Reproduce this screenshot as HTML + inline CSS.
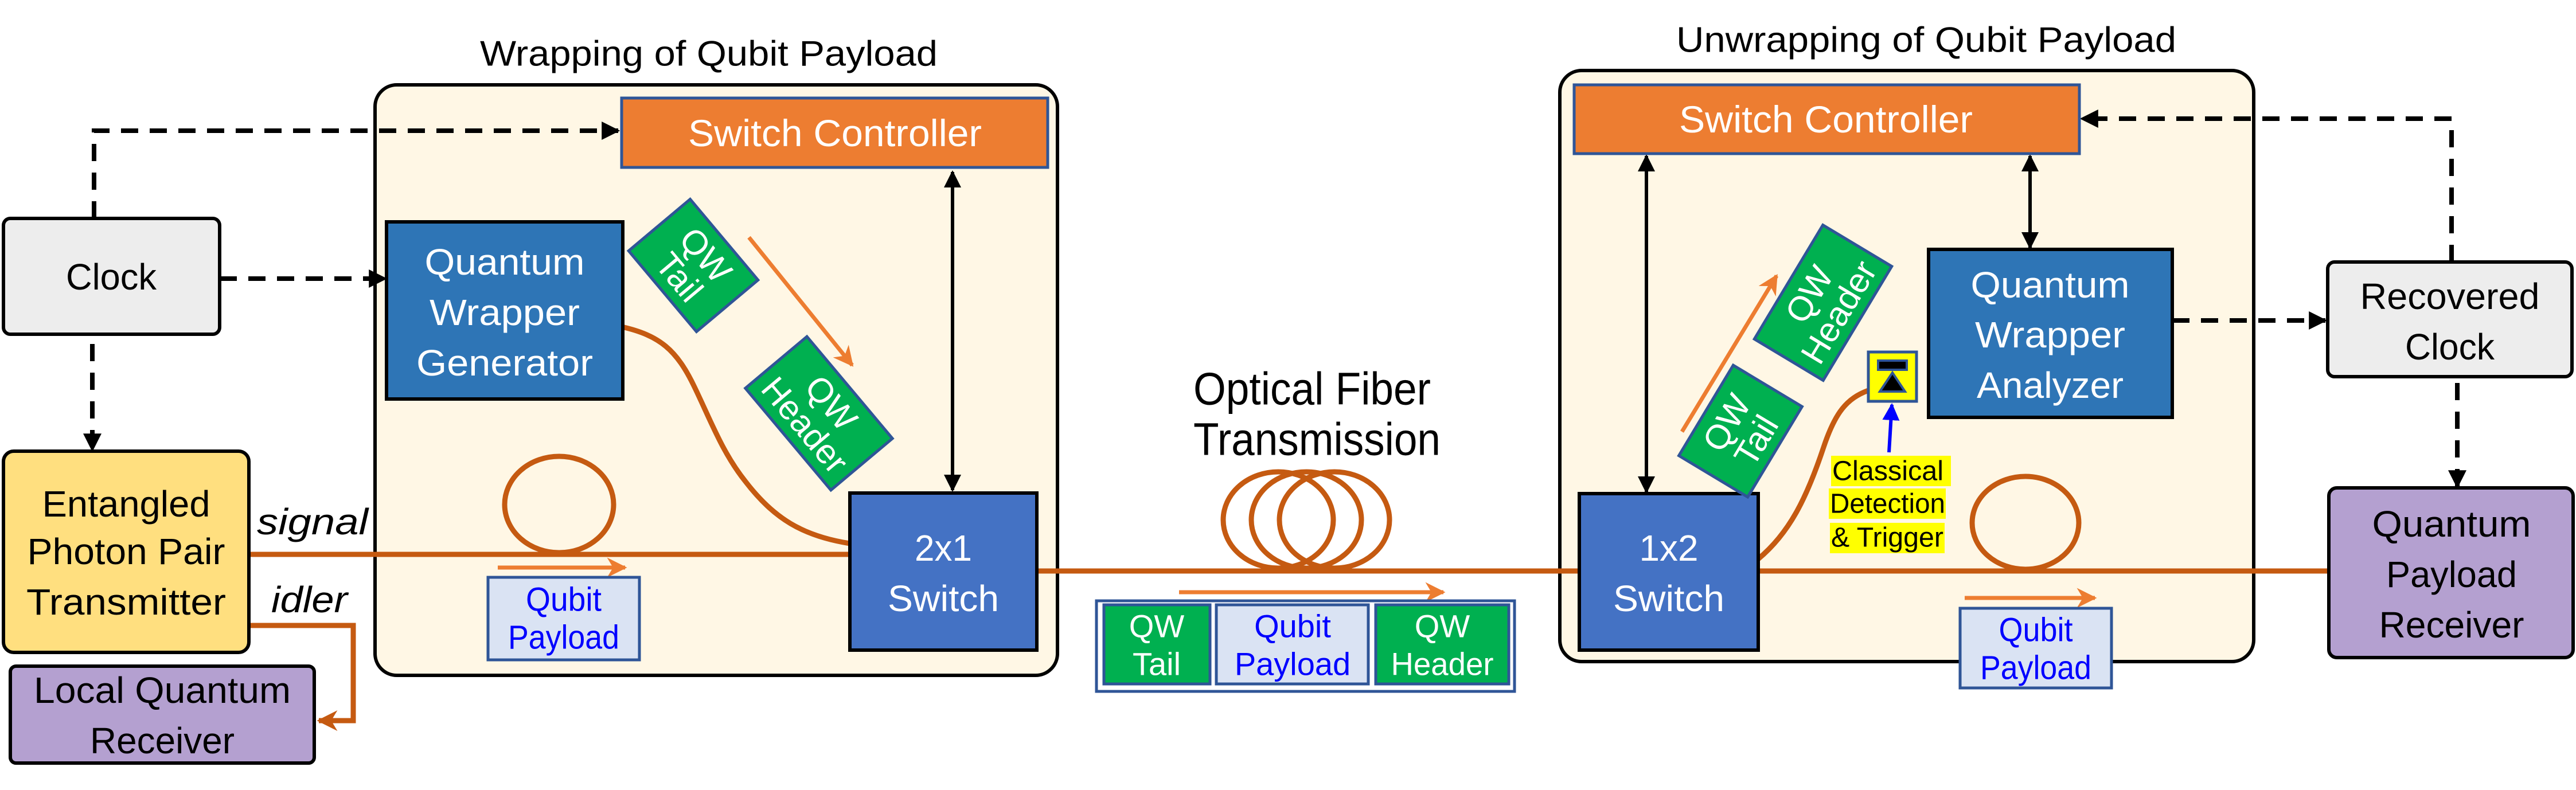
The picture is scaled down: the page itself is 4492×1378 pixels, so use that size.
<!DOCTYPE html>
<html><head><meta charset="utf-8"><style>html,body{margin:0;padding:0;background:#fff}svg{display:block}</style></head>
<body>
<svg width="4492" height="1378" viewBox="0 0 4492 1378" xmlns="http://www.w3.org/2000/svg" font-family="Liberation Sans, sans-serif">
<defs>
<marker id="ab" viewBox="0 0 10 10" refX="9" refY="5" markerWidth="4" markerHeight="4" orient="auto-start-reverse" markerUnits="strokeWidth"><path d="M0,0L10,5L0,10z" fill="#000"/></marker>
<marker id="ab2" viewBox="0 0 10 10" refX="9" refY="5" markerWidth="5" markerHeight="5" orient="auto-start-reverse" markerUnits="strokeWidth"><path d="M0,0L10,5L0,10z" fill="#000"/></marker>
<marker id="ao" viewBox="0 0 10 10" refX="9" refY="5" markerWidth="5" markerHeight="5" orient="auto" markerUnits="strokeWidth"><path d="M0,0L10,5L0,10L3,5z" fill="#ED7D31"/></marker>
<marker id="af" viewBox="0 0 10 10" refX="9" refY="5" markerWidth="4" markerHeight="4" orient="auto" markerUnits="strokeWidth"><path d="M0,0L10,5L0,10L3,5z" fill="#C55A11"/></marker>
<marker id="abl" viewBox="0 0 10 10" refX="9" refY="5" markerWidth="5" markerHeight="5" orient="auto" markerUnits="strokeWidth"><path d="M0,0L10,5L0,10z" fill="#0000FF"/></marker>
</defs>

<text x="1236" y="94" font-size="62" text-anchor="middle" dominant-baseline="central" textLength="798" lengthAdjust="spacingAndGlyphs">Wrapping of Qubit Payload</text>
<text x="3359" y="70" font-size="62" text-anchor="middle" dominant-baseline="central" textLength="872" lengthAdjust="spacingAndGlyphs">Unwrapping of Qubit Payload</text>

<rect x="654" y="148" width="1190" height="1030" rx="38" fill="#FFF7E5" stroke="#000" stroke-width="6"/>
<rect x="2720" y="123" width="1210" height="1031" rx="38" fill="#FFF7E5" stroke="#000" stroke-width="6"/>

<g fill="none" stroke="#C55A11" stroke-width="9">
<line x1="434" y1="967" x2="1482" y2="967"/>
<ellipse cx="975" cy="880" rx="95" ry="84"/>
<path d="M1084,570 C1150,585 1180,610 1211,675 C1240,735 1260,790 1300,840 C1350,905 1400,935 1482,948"/>
<line x1="1808" y1="996" x2="2754" y2="996"/>
<ellipse cx="2229" cy="907" rx="96" ry="84"/>
<ellipse cx="2278" cy="907" rx="96" ry="84"/>
<ellipse cx="2327" cy="907" rx="96" ry="84"/>
<line x1="3066" y1="996" x2="4061" y2="996"/>
<ellipse cx="3532" cy="912" rx="93" ry="81"/>
<path d="M3066,975 C3120,930 3150,870 3180,780 C3200,720 3220,695 3258,681"/>
<path d="M434,1091 H616 V1257 H556" marker-end="url(#af)"/>
</g>

<g stroke="#ED7D31" stroke-width="7" fill="none">
<line x1="868" y1="990" x2="1090" y2="990" marker-end="url(#ao)"/>
<line x1="2056" y1="1033" x2="2517" y2="1033" marker-end="url(#ao)"/>
<line x1="3426" y1="1043" x2="3653" y2="1043" marker-end="url(#ao)"/>
<line x1="1306" y1="414" x2="1486" y2="637" marker-end="url(#ao)"/>
<line x1="2933" y1="753" x2="3098" y2="481" marker-end="url(#ao)"/>
</g>

<g stroke="#000" stroke-width="8" fill="none" stroke-dasharray="30 20">
<path d="M164,381 V228 H1078" marker-end="url(#ab)"/>
<line x1="383" y1="486" x2="672" y2="486" marker-end="url(#ab)"/>
<line x1="161" y1="600" x2="161" y2="785" marker-end="url(#ab)"/>
<line x1="3788" y1="559" x2="4055" y2="559" marker-end="url(#ab)"/>
<path d="M4275,457 V207 H3630" marker-end="url(#ab)"/>
<line x1="4285" y1="668" x2="4285" y2="849" marker-end="url(#ab)"/>
</g>

<g stroke="#000" stroke-width="6">
<line x1="1661" y1="300" x2="1661" y2="855" marker-start="url(#ab2)" marker-end="url(#ab2)"/>
<line x1="2871" y1="272" x2="2871" y2="858" marker-start="url(#ab2)" marker-end="url(#ab2)"/>
<line x1="3540" y1="272" x2="3540" y2="432" marker-start="url(#ab2)" marker-end="url(#ab2)"/>
</g>

<rect x="6" y="381" width="377" height="202" rx="12" fill="#EDEDED" stroke="#000" stroke-width="6"/>
<text x="194" y="483" font-size="64" text-anchor="middle" dominant-baseline="central" textLength="158" lengthAdjust="spacingAndGlyphs">Clock</text>

<rect x="6" y="787" width="428" height="351" rx="18" fill="#FFDF7F" stroke="#000" stroke-width="6"/>
<g font-size="64" text-anchor="middle" dominant-baseline="central">
<text x="220" y="879" textLength="293" lengthAdjust="spacingAndGlyphs">Entangled</text>
<text x="220" y="962" textLength="345" lengthAdjust="spacingAndGlyphs">Photon Pair</text>
<text x="220" y="1050" textLength="348" lengthAdjust="spacingAndGlyphs">Transmitter</text>
</g>

<rect x="18" y="1162" width="530" height="169" rx="10" fill="#B4A0D0" stroke="#000" stroke-width="6"/>
<g font-size="64" text-anchor="middle" dominant-baseline="central">
<text x="283" y="1204" textLength="448" lengthAdjust="spacingAndGlyphs">Local Quantum</text>
<text x="283" y="1292" textLength="252" lengthAdjust="spacingAndGlyphs">Receiver</text>
</g>

<text x="448" y="910" font-size="64" font-style="italic" dominant-baseline="central" textLength="194" lengthAdjust="spacingAndGlyphs">signal</text>
<text x="473" y="1046" font-size="64" font-style="italic" dominant-baseline="central" textLength="133" lengthAdjust="spacingAndGlyphs">idler</text>

<rect x="1084" y="171" width="743" height="121" fill="#ED7D31" stroke="#2F5597" stroke-width="5"/>
<text x="1456" y="232" font-size="66" fill="#fff" text-anchor="middle" dominant-baseline="central" textLength="512" lengthAdjust="spacingAndGlyphs">Switch Controller</text>

<rect x="674" y="387" width="412" height="309" fill="#2E75B6" stroke="#000" stroke-width="6"/>
<g font-size="64" fill="#fff" text-anchor="middle" dominant-baseline="central">
<text x="880" y="457" textLength="279" lengthAdjust="spacingAndGlyphs">Quantum</text>
<text x="880" y="545" textLength="262" lengthAdjust="spacingAndGlyphs">Wrapper</text>
<text x="880" y="633" textLength="308" lengthAdjust="spacingAndGlyphs">Generator</text>
</g>

<g transform="translate(1209,463) rotate(50)" font-size="60" fill="#fff" text-anchor="middle" dominant-baseline="central">
<rect x="-92" y="-70" width="184" height="140" fill="#00B050" stroke="#2F5597" stroke-width="5"/>
<text x="0" y="-28">QW</text>
<text x="0" y="32">Tail</text>
</g>
<g transform="translate(1428,721) rotate(50)" font-size="60" fill="#fff" text-anchor="middle" dominant-baseline="central">
<rect x="-116" y="-70" width="232" height="140" fill="#00B050" stroke="#2F5597" stroke-width="5"/>
<text x="0" y="-28">QW</text>
<text x="0" y="32">Header</text>
</g>

<rect x="851" y="1007" width="264" height="144" fill="#DAE3F3" stroke="#2F5597" stroke-width="5"/>
<g font-size="58" fill="#0000FF" text-anchor="middle" dominant-baseline="central">
<text x="983" y="1046" textLength="132" lengthAdjust="spacingAndGlyphs">Qubit</text>
<text x="983" y="1112" textLength="194" lengthAdjust="spacingAndGlyphs">Payload</text>
</g>

<rect x="1482" y="860" width="326" height="274" fill="#4472C4" stroke="#000" stroke-width="6"/>
<g font-size="64" fill="#fff" text-anchor="middle" dominant-baseline="central">
<text x="1645" y="956" textLength="100" lengthAdjust="spacingAndGlyphs">2x1</text>
<text x="1645" y="1044" textLength="194" lengthAdjust="spacingAndGlyphs">Switch</text>
</g>

<g font-size="80" dominant-baseline="central">
<text x="2081" y="678" textLength="414" lengthAdjust="spacingAndGlyphs">Optical Fiber</text>
<text x="2081" y="766" textLength="431" lengthAdjust="spacingAndGlyphs">Transmission</text>
</g>
<rect x="1912" y="1048" width="729" height="158" fill="#fff" stroke="#2F5597" stroke-width="5"/>
<rect x="1925" y="1055" width="185" height="138" fill="#00B050" stroke="#2F5597" stroke-width="5"/>
<rect x="2121" y="1055" width="265" height="138" fill="#DAE3F3" stroke="#2F5597" stroke-width="5"/>
<rect x="2399" y="1055" width="232" height="138" fill="#00B050" stroke="#2F5597" stroke-width="5"/>
<g font-size="56" text-anchor="middle" dominant-baseline="central">
<text x="2017" y="1092" fill="#fff">QW</text>
<text x="2017" y="1158" fill="#fff">Tail</text>
<text x="2254" y="1092" fill="#0000FF">Qubit</text>
<text x="2254" y="1158" fill="#0000FF">Payload</text>
<text x="2515" y="1092" fill="#fff">QW</text>
<text x="2515" y="1158" fill="#fff" textLength="179" lengthAdjust="spacingAndGlyphs">Header</text>
</g>

<rect x="2745" y="148" width="881" height="120" fill="#ED7D31" stroke="#2F5597" stroke-width="5"/>
<text x="3184" y="208" font-size="66" fill="#fff" text-anchor="middle" dominant-baseline="central" textLength="512" lengthAdjust="spacingAndGlyphs">Switch Controller</text>

<rect x="2754" y="861" width="312" height="273" fill="#4472C4" stroke="#000" stroke-width="6"/>
<g font-size="64" fill="#fff" text-anchor="middle" dominant-baseline="central">
<text x="2910" y="956" textLength="103" lengthAdjust="spacingAndGlyphs">1x2</text>
<text x="2910" y="1044" textLength="194" lengthAdjust="spacingAndGlyphs">Switch</text>
</g>

<g transform="translate(3179,528) rotate(-59)" font-size="60" fill="#fff" text-anchor="middle" dominant-baseline="central">
<rect x="-116" y="-70" width="232" height="140" fill="#00B050" stroke="#2F5597" stroke-width="5"/>
<text x="0" y="-28">QW</text>
<text x="0" y="32">Header</text>
</g>
<g transform="translate(3035,752) rotate(-59)" font-size="60" fill="#fff" text-anchor="middle" dominant-baseline="central">
<rect x="-92" y="-70" width="184" height="140" fill="#00B050" stroke="#2F5597" stroke-width="5"/>
<text x="0" y="-28">QW</text>
<text x="0" y="32">Tail</text>
</g>

<rect x="3258" y="614" width="84" height="86" fill="#FFFF00" stroke="#2F5597" stroke-width="5"/>
<rect x="3275" y="629" width="50" height="16" fill="#000" stroke="#2F5597" stroke-width="4"/>
<path d="M3300,650 L3322,683 L3278,683z" fill="#000" stroke="#2F5597" stroke-width="4"/>
<line x1="3294" y1="789" x2="3299" y2="706" stroke="#0000FF" stroke-width="6" marker-end="url(#abl)"/>

<rect x="3193" y="795" width="209" height="53" fill="#FFFF00"/>
<rect x="3189" y="852" width="204" height="53" fill="#FFFF00"/>
<rect x="3191" y="912" width="200" height="53" fill="#FFFF00"/>
<g font-size="48" dominant-baseline="central">
<text x="3195" y="822" textLength="194" lengthAdjust="spacingAndGlyphs">Classical</text>
<text x="3191" y="879" textLength="201" lengthAdjust="spacingAndGlyphs">Detection</text>
<text x="3193" y="938" textLength="196" lengthAdjust="spacingAndGlyphs">&amp; Trigger</text>
</g>

<rect x="3363" y="435" width="425" height="293" fill="#2E75B6" stroke="#000" stroke-width="6"/>
<g font-size="64" fill="#fff" text-anchor="middle" dominant-baseline="central">
<text x="3575" y="497" textLength="277" lengthAdjust="spacingAndGlyphs">Quantum</text>
<text x="3575" y="584" textLength="262" lengthAdjust="spacingAndGlyphs">Wrapper</text>
<text x="3575" y="672" textLength="256" lengthAdjust="spacingAndGlyphs">Analyzer</text>
</g>

<rect x="3418" y="1061" width="264" height="139" fill="#DAE3F3" stroke="#2F5597" stroke-width="5"/>
<g font-size="58" fill="#0000FF" text-anchor="middle" dominant-baseline="central">
<text x="3550" y="1099" textLength="129" lengthAdjust="spacingAndGlyphs">Qubit</text>
<text x="3550" y="1165" textLength="194" lengthAdjust="spacingAndGlyphs">Payload</text>
</g>

<rect x="4059" y="457" width="426" height="200" rx="12" fill="#EDEDED" stroke="#000" stroke-width="6"/>
<g font-size="64" text-anchor="middle" dominant-baseline="central">
<text x="4272" y="517" textLength="313" lengthAdjust="spacingAndGlyphs">Recovered</text>
<text x="4272" y="605" textLength="156" lengthAdjust="spacingAndGlyphs">Clock</text>
</g>

<rect x="4061" y="851" width="426" height="296" rx="14" fill="#B4A0D0" stroke="#000" stroke-width="6"/>
<g font-size="64" text-anchor="middle" dominant-baseline="central">
<text x="4275" y="914" textLength="277" lengthAdjust="spacingAndGlyphs">Quantum</text>
<text x="4275" y="1002" textLength="228" lengthAdjust="spacingAndGlyphs">Payload</text>
<text x="4275" y="1090" textLength="253" lengthAdjust="spacingAndGlyphs">Receiver</text>
</g>
</svg>
</body></html>
